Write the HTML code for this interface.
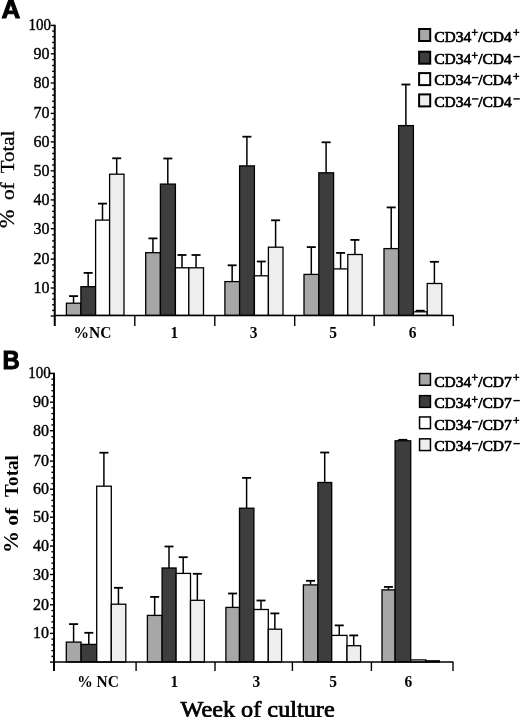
<!DOCTYPE html>
<html><head><meta charset="utf-8"><style>
html,body{margin:0;padding:0;background:#fff;}
body{width:520px;height:717px;overflow:hidden;}
svg{display:block;will-change:transform;}
text{font-family:"Liberation Serif",serif;fill:#000;}
.yl{font-size:16px;stroke:#000;stroke-width:0.4px;}
.xl{font-size:15.5px;font-weight:bold;}
.lg{font-size:15.5px;stroke:#000;stroke-width:0.7px;}
.sup{font-size:11.5px;stroke:#000;stroke-width:0.6px;}
.let{font-family:"Liberation Sans",sans-serif;font-weight:bold;font-size:26px;stroke:#000;stroke-width:1.0px;}
.yt{font-size:20px;stroke:#000;stroke-width:0.3px;}
.ytb{font-size:19.5px;font-weight:bold;}
.xt{font-size:23.2px;stroke:#000;stroke-width:0.75px;}
</style></head><body>
<svg width="520" height="717" viewBox="0 0 520 717">
<line x1="73.55" y1="303.20" x2="73.55" y2="296.10" stroke="#000" stroke-width="1.5"/>
<line x1="69.05" y1="296.10" x2="78.05" y2="296.10" stroke="#000" stroke-width="1.8"/>
<rect x="66.40" y="303.20" width="14.50" height="12.20" fill="#a7a7a7" stroke="#000" stroke-width="1.3"/>
<line x1="88.15" y1="286.70" x2="88.15" y2="272.90" stroke="#000" stroke-width="1.5"/>
<line x1="83.65" y1="272.90" x2="92.65" y2="272.90" stroke="#000" stroke-width="1.8"/>
<rect x="80.90" y="286.70" width="14.70" height="28.70" fill="#3d3d3d" stroke="#000" stroke-width="1.3"/>
<line x1="102.50" y1="220.10" x2="102.50" y2="203.60" stroke="#000" stroke-width="1.5"/>
<line x1="98.00" y1="203.60" x2="107.00" y2="203.60" stroke="#000" stroke-width="1.8"/>
<rect x="95.60" y="220.10" width="14.00" height="95.30" fill="#fefefe" stroke="#000" stroke-width="1.3"/>
<line x1="116.70" y1="174.20" x2="116.70" y2="158.30" stroke="#000" stroke-width="1.5"/>
<line x1="112.20" y1="158.30" x2="121.20" y2="158.30" stroke="#000" stroke-width="1.8"/>
<rect x="109.60" y="174.20" width="14.40" height="141.20" fill="#eeeeee" stroke="#000" stroke-width="1.3"/>
<line x1="152.95" y1="252.70" x2="152.95" y2="238.40" stroke="#000" stroke-width="1.5"/>
<line x1="148.45" y1="238.40" x2="157.45" y2="238.40" stroke="#000" stroke-width="1.8"/>
<rect x="145.70" y="252.70" width="14.70" height="62.70" fill="#a7a7a7" stroke="#000" stroke-width="1.3"/>
<line x1="167.80" y1="184.10" x2="167.80" y2="158.50" stroke="#000" stroke-width="1.5"/>
<line x1="163.30" y1="158.50" x2="172.30" y2="158.50" stroke="#000" stroke-width="1.8"/>
<rect x="160.40" y="184.10" width="15.00" height="131.30" fill="#3d3d3d" stroke="#000" stroke-width="1.3"/>
<line x1="182.00" y1="267.80" x2="182.00" y2="255.00" stroke="#000" stroke-width="1.5"/>
<line x1="177.50" y1="255.00" x2="186.50" y2="255.00" stroke="#000" stroke-width="1.8"/>
<rect x="175.40" y="267.80" width="13.40" height="47.60" fill="#fefefe" stroke="#000" stroke-width="1.3"/>
<line x1="196.05" y1="267.80" x2="196.05" y2="255.00" stroke="#000" stroke-width="1.5"/>
<line x1="191.55" y1="255.00" x2="200.55" y2="255.00" stroke="#000" stroke-width="1.8"/>
<rect x="188.80" y="267.80" width="14.70" height="47.60" fill="#eeeeee" stroke="#000" stroke-width="1.3"/>
<line x1="232.15" y1="281.60" x2="232.15" y2="265.30" stroke="#000" stroke-width="1.5"/>
<line x1="227.65" y1="265.30" x2="236.65" y2="265.30" stroke="#000" stroke-width="1.8"/>
<rect x="224.90" y="281.60" width="14.70" height="33.80" fill="#a7a7a7" stroke="#000" stroke-width="1.3"/>
<line x1="246.90" y1="165.90" x2="246.90" y2="136.70" stroke="#000" stroke-width="1.5"/>
<line x1="242.40" y1="136.70" x2="251.40" y2="136.70" stroke="#000" stroke-width="1.8"/>
<rect x="239.60" y="165.90" width="14.80" height="149.50" fill="#3d3d3d" stroke="#000" stroke-width="1.3"/>
<line x1="261.30" y1="275.80" x2="261.30" y2="261.50" stroke="#000" stroke-width="1.5"/>
<line x1="256.80" y1="261.50" x2="265.80" y2="261.50" stroke="#000" stroke-width="1.8"/>
<rect x="254.40" y="275.80" width="14.00" height="39.60" fill="#fefefe" stroke="#000" stroke-width="1.3"/>
<line x1="275.60" y1="247.20" x2="275.60" y2="220.30" stroke="#000" stroke-width="1.5"/>
<line x1="271.10" y1="220.30" x2="280.10" y2="220.30" stroke="#000" stroke-width="1.8"/>
<rect x="268.40" y="247.20" width="14.60" height="68.20" fill="#eeeeee" stroke="#000" stroke-width="1.3"/>
<line x1="311.30" y1="274.40" x2="311.30" y2="247.10" stroke="#000" stroke-width="1.5"/>
<line x1="306.80" y1="247.10" x2="315.80" y2="247.10" stroke="#000" stroke-width="1.8"/>
<rect x="304.00" y="274.40" width="14.80" height="41.00" fill="#a7a7a7" stroke="#000" stroke-width="1.3"/>
<line x1="326.10" y1="172.80" x2="326.10" y2="142.30" stroke="#000" stroke-width="1.5"/>
<line x1="321.60" y1="142.30" x2="330.60" y2="142.30" stroke="#000" stroke-width="1.8"/>
<rect x="318.80" y="172.80" width="14.80" height="142.60" fill="#3d3d3d" stroke="#000" stroke-width="1.3"/>
<line x1="340.60" y1="268.90" x2="340.60" y2="252.90" stroke="#000" stroke-width="1.5"/>
<line x1="336.10" y1="252.90" x2="345.10" y2="252.90" stroke="#000" stroke-width="1.8"/>
<rect x="333.60" y="268.90" width="14.20" height="46.50" fill="#fefefe" stroke="#000" stroke-width="1.3"/>
<line x1="354.90" y1="254.50" x2="354.90" y2="239.90" stroke="#000" stroke-width="1.5"/>
<line x1="350.40" y1="239.90" x2="359.40" y2="239.90" stroke="#000" stroke-width="1.8"/>
<rect x="347.80" y="254.50" width="14.40" height="60.90" fill="#eeeeee" stroke="#000" stroke-width="1.3"/>
<line x1="391.20" y1="248.60" x2="391.20" y2="207.40" stroke="#000" stroke-width="1.5"/>
<line x1="386.70" y1="207.40" x2="395.70" y2="207.40" stroke="#000" stroke-width="1.8"/>
<rect x="384.00" y="248.60" width="14.60" height="66.80" fill="#a7a7a7" stroke="#000" stroke-width="1.3"/>
<line x1="405.90" y1="125.60" x2="405.90" y2="84.50" stroke="#000" stroke-width="1.5"/>
<line x1="401.40" y1="84.50" x2="410.40" y2="84.50" stroke="#000" stroke-width="1.8"/>
<rect x="398.60" y="125.60" width="14.80" height="189.80" fill="#3d3d3d" stroke="#000" stroke-width="1.3"/>
<line x1="420.20" y1="311.80" x2="420.20" y2="310.70" stroke="#000" stroke-width="1.5"/>
<line x1="415.70" y1="310.70" x2="424.70" y2="310.70" stroke="#000" stroke-width="1.8"/>
<rect x="413.40" y="311.80" width="13.80" height="3.60" fill="#fefefe" stroke="#000" stroke-width="1.3"/>
<line x1="434.40" y1="283.50" x2="434.40" y2="261.80" stroke="#000" stroke-width="1.5"/>
<line x1="429.90" y1="261.80" x2="438.90" y2="261.80" stroke="#000" stroke-width="1.8"/>
<rect x="427.20" y="283.50" width="14.60" height="31.90" fill="#eeeeee" stroke="#000" stroke-width="1.3"/>
<line x1="54.75" y1="24.80" x2="54.75" y2="326" stroke="#000" stroke-width="2"/>
<line x1="50.75" y1="316.00" x2="54.75" y2="316.00" stroke="#000" stroke-width="1.4"/>
<line x1="52.15" y1="310.40" x2="54.75" y2="310.40" stroke="#000" stroke-width="1.4"/>
<line x1="52.15" y1="304.80" x2="54.75" y2="304.80" stroke="#000" stroke-width="1.4"/>
<line x1="52.15" y1="299.20" x2="54.75" y2="299.20" stroke="#000" stroke-width="1.4"/>
<line x1="52.15" y1="293.60" x2="54.75" y2="293.60" stroke="#000" stroke-width="1.4"/>
<line x1="50.75" y1="288.00" x2="54.75" y2="288.00" stroke="#000" stroke-width="1.4"/>
<text x="49.40" y="293.00" text-anchor="end" class="yl">10</text>
<line x1="52.15" y1="282.22" x2="54.75" y2="282.22" stroke="#000" stroke-width="1.4"/>
<line x1="52.15" y1="276.44" x2="54.75" y2="276.44" stroke="#000" stroke-width="1.4"/>
<line x1="52.15" y1="270.66" x2="54.75" y2="270.66" stroke="#000" stroke-width="1.4"/>
<line x1="52.15" y1="264.88" x2="54.75" y2="264.88" stroke="#000" stroke-width="1.4"/>
<line x1="50.75" y1="259.10" x2="54.75" y2="259.10" stroke="#000" stroke-width="1.4"/>
<text x="49.40" y="264.10" text-anchor="end" class="yl">20</text>
<line x1="52.15" y1="253.02" x2="54.75" y2="253.02" stroke="#000" stroke-width="1.4"/>
<line x1="52.15" y1="246.94" x2="54.75" y2="246.94" stroke="#000" stroke-width="1.4"/>
<line x1="52.15" y1="240.86" x2="54.75" y2="240.86" stroke="#000" stroke-width="1.4"/>
<line x1="52.15" y1="234.78" x2="54.75" y2="234.78" stroke="#000" stroke-width="1.4"/>
<line x1="50.75" y1="228.70" x2="54.75" y2="228.70" stroke="#000" stroke-width="1.4"/>
<text x="49.40" y="233.70" text-anchor="end" class="yl">30</text>
<line x1="52.15" y1="222.94" x2="54.75" y2="222.94" stroke="#000" stroke-width="1.4"/>
<line x1="52.15" y1="217.18" x2="54.75" y2="217.18" stroke="#000" stroke-width="1.4"/>
<line x1="52.15" y1="211.42" x2="54.75" y2="211.42" stroke="#000" stroke-width="1.4"/>
<line x1="52.15" y1="205.66" x2="54.75" y2="205.66" stroke="#000" stroke-width="1.4"/>
<line x1="50.75" y1="199.90" x2="54.75" y2="199.90" stroke="#000" stroke-width="1.4"/>
<text x="49.40" y="204.90" text-anchor="end" class="yl">40</text>
<line x1="52.15" y1="194.08" x2="54.75" y2="194.08" stroke="#000" stroke-width="1.4"/>
<line x1="52.15" y1="188.26" x2="54.75" y2="188.26" stroke="#000" stroke-width="1.4"/>
<line x1="52.15" y1="182.44" x2="54.75" y2="182.44" stroke="#000" stroke-width="1.4"/>
<line x1="52.15" y1="176.62" x2="54.75" y2="176.62" stroke="#000" stroke-width="1.4"/>
<line x1="50.75" y1="170.80" x2="54.75" y2="170.80" stroke="#000" stroke-width="1.4"/>
<text x="49.40" y="175.80" text-anchor="end" class="yl">50</text>
<line x1="52.15" y1="165.02" x2="54.75" y2="165.02" stroke="#000" stroke-width="1.4"/>
<line x1="52.15" y1="159.24" x2="54.75" y2="159.24" stroke="#000" stroke-width="1.4"/>
<line x1="52.15" y1="153.46" x2="54.75" y2="153.46" stroke="#000" stroke-width="1.4"/>
<line x1="52.15" y1="147.68" x2="54.75" y2="147.68" stroke="#000" stroke-width="1.4"/>
<line x1="50.75" y1="141.90" x2="54.75" y2="141.90" stroke="#000" stroke-width="1.4"/>
<text x="49.40" y="146.90" text-anchor="end" class="yl">60</text>
<line x1="52.15" y1="136.20" x2="54.75" y2="136.20" stroke="#000" stroke-width="1.4"/>
<line x1="52.15" y1="130.50" x2="54.75" y2="130.50" stroke="#000" stroke-width="1.4"/>
<line x1="52.15" y1="124.80" x2="54.75" y2="124.80" stroke="#000" stroke-width="1.4"/>
<line x1="52.15" y1="119.10" x2="54.75" y2="119.10" stroke="#000" stroke-width="1.4"/>
<line x1="50.75" y1="113.40" x2="54.75" y2="113.40" stroke="#000" stroke-width="1.4"/>
<text x="49.40" y="118.40" text-anchor="end" class="yl">70</text>
<line x1="52.15" y1="107.32" x2="54.75" y2="107.32" stroke="#000" stroke-width="1.4"/>
<line x1="52.15" y1="101.24" x2="54.75" y2="101.24" stroke="#000" stroke-width="1.4"/>
<line x1="52.15" y1="95.16" x2="54.75" y2="95.16" stroke="#000" stroke-width="1.4"/>
<line x1="52.15" y1="89.08" x2="54.75" y2="89.08" stroke="#000" stroke-width="1.4"/>
<line x1="50.75" y1="83.00" x2="54.75" y2="83.00" stroke="#000" stroke-width="1.4"/>
<text x="49.40" y="88.00" text-anchor="end" class="yl">80</text>
<line x1="52.15" y1="77.16" x2="54.75" y2="77.16" stroke="#000" stroke-width="1.4"/>
<line x1="52.15" y1="71.32" x2="54.75" y2="71.32" stroke="#000" stroke-width="1.4"/>
<line x1="52.15" y1="65.48" x2="54.75" y2="65.48" stroke="#000" stroke-width="1.4"/>
<line x1="52.15" y1="59.64" x2="54.75" y2="59.64" stroke="#000" stroke-width="1.4"/>
<line x1="50.75" y1="53.80" x2="54.75" y2="53.80" stroke="#000" stroke-width="1.4"/>
<text x="49.40" y="58.80" text-anchor="end" class="yl">90</text>
<line x1="52.15" y1="48.12" x2="54.75" y2="48.12" stroke="#000" stroke-width="1.4"/>
<line x1="52.15" y1="42.44" x2="54.75" y2="42.44" stroke="#000" stroke-width="1.4"/>
<line x1="52.15" y1="36.76" x2="54.75" y2="36.76" stroke="#000" stroke-width="1.4"/>
<line x1="52.15" y1="31.08" x2="54.75" y2="31.08" stroke="#000" stroke-width="1.4"/>
<line x1="50.75" y1="25.40" x2="54.75" y2="25.40" stroke="#000" stroke-width="1.4"/>
<text transform="translate(51.00,30.10) scale(0.94,1)" text-anchor="end" class="yl">100</text>
<line x1="54.75" y1="315.4" x2="453.6" y2="315.4" stroke="#000" stroke-width="1.5"/>
<line x1="134.8" y1="315.4" x2="134.8" y2="326" stroke="#000" stroke-width="1.4"/>
<line x1="214.8" y1="315.4" x2="214.8" y2="326" stroke="#000" stroke-width="1.4"/>
<line x1="294.7" y1="315.4" x2="294.7" y2="326" stroke="#000" stroke-width="1.4"/>
<line x1="374.2" y1="315.4" x2="374.2" y2="326" stroke="#000" stroke-width="1.4"/>
<line x1="453.3" y1="315.4" x2="453.3" y2="326" stroke="#000" stroke-width="1.4"/>
<text transform="translate(73.60,338.4) scale(1,1.12)" class="xl">%NC</text>
<text transform="translate(170.60,338.4) scale(1,1.12)" class="xl">1</text>
<text transform="translate(249.80,338.4) scale(1,1.12)" class="xl">3</text>
<text transform="translate(329.20,338.4) scale(1,1.12)" class="xl">5</text>
<text transform="translate(408.70,338.4) scale(1,1.12)" class="xl">6</text>
<rect x="419.10" y="29.00" width="11.10" height="12.00" fill="#a7a7a7" stroke="#000" stroke-width="2.0"/>
<text x="434.2" y="41.80" class="lg">CD34</text>
<text x="478.2" y="41.80" class="lg">/CD4</text>
<text x="471.60" y="37.20" class="sup">+</text>
<text x="513.00" y="37.20" class="sup">+</text>
<rect x="419.10" y="51.70" width="11.10" height="12.00" fill="#3d3d3d" stroke="#000" stroke-width="2.0"/>
<text x="434.2" y="64.30" class="lg">CD34</text>
<text x="478.2" y="64.30" class="lg">/CD4</text>
<text x="471.60" y="59.70" class="sup">+</text>
<rect x="513.40" y="55.90" width="6.4" height="1.4" fill="#000"/>
<rect x="419.10" y="73.10" width="11.10" height="12.00" fill="#fefefe" stroke="#000" stroke-width="2.0"/>
<text x="434.2" y="85.30" class="lg">CD34</text>
<text x="478.2" y="85.30" class="lg">/CD4</text>
<rect x="472.00" y="76.90" width="6.4" height="1.4" fill="#000"/>
<text x="513.00" y="80.70" class="sup">+</text>
<rect x="419.10" y="94.40" width="11.10" height="12.00" fill="#eeeeee" stroke="#000" stroke-width="2.0"/>
<text x="434.2" y="106.60" class="lg">CD34</text>
<text x="478.2" y="106.60" class="lg">/CD4</text>
<rect x="472.00" y="98.20" width="6.4" height="1.4" fill="#000"/>
<rect x="513.40" y="98.20" width="6.4" height="1.4" fill="#000"/>
<text transform="translate(1.6,18.3) scale(1.0,1)" class="let">A</text>
<text transform="translate(14.2,228.00) rotate(-90) scale(1.08,1)" class="yt" style="font-size:20.5px">%</text>
<text transform="translate(14.2,200.10) rotate(-90) scale(1.1,1)" class="yt" style="font-size:19.5px">of</text>
<text transform="translate(14.2,173.30) rotate(-90) scale(1.07,1)" class="yt" style="font-size:19.5px">Total</text>
<line x1="73.60" y1="642.10" x2="73.60" y2="624.10" stroke="#000" stroke-width="1.5"/>
<line x1="69.10" y1="624.10" x2="78.10" y2="624.10" stroke="#000" stroke-width="1.8"/>
<rect x="66.30" y="642.10" width="14.80" height="19.90" fill="#a7a7a7" stroke="#000" stroke-width="1.3"/>
<line x1="88.80" y1="644.40" x2="88.80" y2="632.80" stroke="#000" stroke-width="1.5"/>
<line x1="84.30" y1="632.80" x2="93.30" y2="632.80" stroke="#000" stroke-width="1.8"/>
<rect x="81.10" y="644.40" width="15.60" height="17.60" fill="#3d3d3d" stroke="#000" stroke-width="1.3"/>
<line x1="103.90" y1="486.20" x2="103.90" y2="452.70" stroke="#000" stroke-width="1.5"/>
<line x1="99.40" y1="452.70" x2="108.40" y2="452.70" stroke="#000" stroke-width="1.8"/>
<rect x="96.70" y="486.20" width="14.60" height="175.80" fill="#fefefe" stroke="#000" stroke-width="1.3"/>
<line x1="118.45" y1="604.20" x2="118.45" y2="587.80" stroke="#000" stroke-width="1.5"/>
<line x1="113.95" y1="587.80" x2="122.95" y2="587.80" stroke="#000" stroke-width="1.8"/>
<rect x="111.30" y="604.20" width="14.50" height="57.80" fill="#eeeeee" stroke="#000" stroke-width="1.3"/>
<line x1="154.65" y1="615.40" x2="154.65" y2="596.90" stroke="#000" stroke-width="1.5"/>
<line x1="150.15" y1="596.90" x2="159.15" y2="596.90" stroke="#000" stroke-width="1.8"/>
<rect x="147.40" y="615.40" width="14.70" height="46.60" fill="#a7a7a7" stroke="#000" stroke-width="1.3"/>
<line x1="169.00" y1="568.00" x2="169.00" y2="546.50" stroke="#000" stroke-width="1.5"/>
<line x1="164.50" y1="546.50" x2="173.50" y2="546.50" stroke="#000" stroke-width="1.8"/>
<rect x="162.10" y="568.00" width="14.00" height="94.00" fill="#3d3d3d" stroke="#000" stroke-width="1.3"/>
<line x1="183.20" y1="573.40" x2="183.20" y2="557.20" stroke="#000" stroke-width="1.5"/>
<line x1="178.70" y1="557.20" x2="187.70" y2="557.20" stroke="#000" stroke-width="1.8"/>
<rect x="176.10" y="573.40" width="14.40" height="88.60" fill="#fefefe" stroke="#000" stroke-width="1.3"/>
<line x1="197.35" y1="600.30" x2="197.35" y2="573.80" stroke="#000" stroke-width="1.5"/>
<line x1="192.85" y1="573.80" x2="201.85" y2="573.80" stroke="#000" stroke-width="1.8"/>
<rect x="190.50" y="600.30" width="13.90" height="61.70" fill="#eeeeee" stroke="#000" stroke-width="1.3"/>
<line x1="232.60" y1="607.40" x2="232.60" y2="593.50" stroke="#000" stroke-width="1.5"/>
<line x1="228.10" y1="593.50" x2="237.10" y2="593.50" stroke="#000" stroke-width="1.8"/>
<rect x="225.90" y="607.40" width="13.60" height="54.60" fill="#a7a7a7" stroke="#000" stroke-width="1.3"/>
<line x1="246.60" y1="508.20" x2="246.60" y2="477.90" stroke="#000" stroke-width="1.5"/>
<line x1="242.10" y1="477.90" x2="251.10" y2="477.90" stroke="#000" stroke-width="1.8"/>
<rect x="239.50" y="508.20" width="14.40" height="153.80" fill="#3d3d3d" stroke="#000" stroke-width="1.3"/>
<line x1="261.00" y1="609.50" x2="261.00" y2="600.50" stroke="#000" stroke-width="1.5"/>
<line x1="256.50" y1="600.50" x2="265.50" y2="600.50" stroke="#000" stroke-width="1.8"/>
<rect x="253.90" y="609.50" width="14.40" height="52.50" fill="#fefefe" stroke="#000" stroke-width="1.3"/>
<line x1="274.85" y1="629.20" x2="274.85" y2="613.40" stroke="#000" stroke-width="1.5"/>
<line x1="270.35" y1="613.40" x2="279.35" y2="613.40" stroke="#000" stroke-width="1.8"/>
<rect x="268.30" y="629.20" width="13.30" height="32.80" fill="#eeeeee" stroke="#000" stroke-width="1.3"/>
<line x1="310.55" y1="584.90" x2="310.55" y2="580.80" stroke="#000" stroke-width="1.5"/>
<line x1="306.05" y1="580.80" x2="315.05" y2="580.80" stroke="#000" stroke-width="1.8"/>
<rect x="303.40" y="584.90" width="14.50" height="77.10" fill="#a7a7a7" stroke="#000" stroke-width="1.3"/>
<line x1="324.70" y1="482.50" x2="324.70" y2="452.50" stroke="#000" stroke-width="1.5"/>
<line x1="320.20" y1="452.50" x2="329.20" y2="452.50" stroke="#000" stroke-width="1.8"/>
<rect x="317.90" y="482.50" width="13.80" height="179.50" fill="#3d3d3d" stroke="#000" stroke-width="1.3"/>
<line x1="339.25" y1="635.40" x2="339.25" y2="625.40" stroke="#000" stroke-width="1.5"/>
<line x1="334.75" y1="625.40" x2="343.75" y2="625.40" stroke="#000" stroke-width="1.8"/>
<rect x="331.70" y="635.40" width="15.30" height="26.60" fill="#fefefe" stroke="#000" stroke-width="1.3"/>
<line x1="353.70" y1="645.70" x2="353.70" y2="635.40" stroke="#000" stroke-width="1.5"/>
<line x1="349.20" y1="635.40" x2="358.20" y2="635.40" stroke="#000" stroke-width="1.8"/>
<rect x="347.00" y="645.70" width="13.60" height="16.30" fill="#eeeeee" stroke="#000" stroke-width="1.3"/>
<line x1="388.45" y1="589.90" x2="388.45" y2="586.90" stroke="#000" stroke-width="1.5"/>
<line x1="383.95" y1="586.90" x2="392.95" y2="586.90" stroke="#000" stroke-width="1.8"/>
<rect x="382.00" y="589.90" width="13.10" height="72.10" fill="#a7a7a7" stroke="#000" stroke-width="1.3"/>
<line x1="402.80" y1="440.80" x2="402.80" y2="439.80" stroke="#000" stroke-width="1.5"/>
<line x1="398.30" y1="439.80" x2="407.30" y2="439.80" stroke="#000" stroke-width="1.8"/>
<rect x="395.10" y="440.80" width="15.60" height="221.20" fill="#3d3d3d" stroke="#000" stroke-width="1.3"/>
<rect x="410.70" y="659.90" width="15.10" height="2.10" fill="#fefefe" stroke="#000" stroke-width="1.3"/>
<rect x="425.80" y="660.80" width="13.50" height="1.20" fill="#eeeeee" stroke="#000" stroke-width="1.3"/>
<line x1="54.0" y1="372.80" x2="54.0" y2="671" stroke="#000" stroke-width="2"/>
<line x1="50.00" y1="662.10" x2="54.0" y2="662.10" stroke="#000" stroke-width="1.4"/>
<line x1="51.40" y1="656.36" x2="54.0" y2="656.36" stroke="#000" stroke-width="1.4"/>
<line x1="51.40" y1="650.62" x2="54.0" y2="650.62" stroke="#000" stroke-width="1.4"/>
<line x1="51.40" y1="644.88" x2="54.0" y2="644.88" stroke="#000" stroke-width="1.4"/>
<line x1="51.40" y1="639.14" x2="54.0" y2="639.14" stroke="#000" stroke-width="1.4"/>
<line x1="50.00" y1="633.40" x2="54.0" y2="633.40" stroke="#000" stroke-width="1.4"/>
<text x="49.00" y="638.40" text-anchor="end" class="yl">10</text>
<line x1="51.40" y1="627.68" x2="54.0" y2="627.68" stroke="#000" stroke-width="1.4"/>
<line x1="51.40" y1="621.96" x2="54.0" y2="621.96" stroke="#000" stroke-width="1.4"/>
<line x1="51.40" y1="616.24" x2="54.0" y2="616.24" stroke="#000" stroke-width="1.4"/>
<line x1="51.40" y1="610.52" x2="54.0" y2="610.52" stroke="#000" stroke-width="1.4"/>
<line x1="50.00" y1="604.80" x2="54.0" y2="604.80" stroke="#000" stroke-width="1.4"/>
<text x="49.00" y="609.80" text-anchor="end" class="yl">20</text>
<line x1="51.40" y1="598.74" x2="54.0" y2="598.74" stroke="#000" stroke-width="1.4"/>
<line x1="51.40" y1="592.68" x2="54.0" y2="592.68" stroke="#000" stroke-width="1.4"/>
<line x1="51.40" y1="586.62" x2="54.0" y2="586.62" stroke="#000" stroke-width="1.4"/>
<line x1="51.40" y1="580.56" x2="54.0" y2="580.56" stroke="#000" stroke-width="1.4"/>
<line x1="50.00" y1="574.50" x2="54.0" y2="574.50" stroke="#000" stroke-width="1.4"/>
<text x="49.00" y="579.50" text-anchor="end" class="yl">30</text>
<line x1="51.40" y1="568.82" x2="54.0" y2="568.82" stroke="#000" stroke-width="1.4"/>
<line x1="51.40" y1="563.14" x2="54.0" y2="563.14" stroke="#000" stroke-width="1.4"/>
<line x1="51.40" y1="557.46" x2="54.0" y2="557.46" stroke="#000" stroke-width="1.4"/>
<line x1="51.40" y1="551.78" x2="54.0" y2="551.78" stroke="#000" stroke-width="1.4"/>
<line x1="50.00" y1="546.10" x2="54.0" y2="546.10" stroke="#000" stroke-width="1.4"/>
<text x="49.00" y="551.10" text-anchor="end" class="yl">40</text>
<line x1="51.40" y1="540.32" x2="54.0" y2="540.32" stroke="#000" stroke-width="1.4"/>
<line x1="51.40" y1="534.54" x2="54.0" y2="534.54" stroke="#000" stroke-width="1.4"/>
<line x1="51.40" y1="528.76" x2="54.0" y2="528.76" stroke="#000" stroke-width="1.4"/>
<line x1="51.40" y1="522.98" x2="54.0" y2="522.98" stroke="#000" stroke-width="1.4"/>
<line x1="50.00" y1="517.20" x2="54.0" y2="517.20" stroke="#000" stroke-width="1.4"/>
<text x="49.00" y="522.20" text-anchor="end" class="yl">50</text>
<line x1="51.40" y1="511.60" x2="54.0" y2="511.60" stroke="#000" stroke-width="1.4"/>
<line x1="51.40" y1="506.00" x2="54.0" y2="506.00" stroke="#000" stroke-width="1.4"/>
<line x1="51.40" y1="500.40" x2="54.0" y2="500.40" stroke="#000" stroke-width="1.4"/>
<line x1="51.40" y1="494.80" x2="54.0" y2="494.80" stroke="#000" stroke-width="1.4"/>
<line x1="50.00" y1="489.20" x2="54.0" y2="489.20" stroke="#000" stroke-width="1.4"/>
<text x="49.00" y="494.20" text-anchor="end" class="yl">60</text>
<line x1="51.40" y1="483.58" x2="54.0" y2="483.58" stroke="#000" stroke-width="1.4"/>
<line x1="51.40" y1="477.96" x2="54.0" y2="477.96" stroke="#000" stroke-width="1.4"/>
<line x1="51.40" y1="472.34" x2="54.0" y2="472.34" stroke="#000" stroke-width="1.4"/>
<line x1="51.40" y1="466.72" x2="54.0" y2="466.72" stroke="#000" stroke-width="1.4"/>
<line x1="50.00" y1="461.10" x2="54.0" y2="461.10" stroke="#000" stroke-width="1.4"/>
<text x="49.00" y="466.10" text-anchor="end" class="yl">70</text>
<line x1="51.40" y1="455.02" x2="54.0" y2="455.02" stroke="#000" stroke-width="1.4"/>
<line x1="51.40" y1="448.94" x2="54.0" y2="448.94" stroke="#000" stroke-width="1.4"/>
<line x1="51.40" y1="442.86" x2="54.0" y2="442.86" stroke="#000" stroke-width="1.4"/>
<line x1="51.40" y1="436.78" x2="54.0" y2="436.78" stroke="#000" stroke-width="1.4"/>
<line x1="50.00" y1="430.70" x2="54.0" y2="430.70" stroke="#000" stroke-width="1.4"/>
<text x="49.00" y="435.70" text-anchor="end" class="yl">80</text>
<line x1="51.40" y1="425.00" x2="54.0" y2="425.00" stroke="#000" stroke-width="1.4"/>
<line x1="51.40" y1="419.30" x2="54.0" y2="419.30" stroke="#000" stroke-width="1.4"/>
<line x1="51.40" y1="413.60" x2="54.0" y2="413.60" stroke="#000" stroke-width="1.4"/>
<line x1="51.40" y1="407.90" x2="54.0" y2="407.90" stroke="#000" stroke-width="1.4"/>
<line x1="50.00" y1="402.20" x2="54.0" y2="402.20" stroke="#000" stroke-width="1.4"/>
<text x="49.00" y="407.20" text-anchor="end" class="yl">90</text>
<line x1="51.40" y1="396.44" x2="54.0" y2="396.44" stroke="#000" stroke-width="1.4"/>
<line x1="51.40" y1="390.68" x2="54.0" y2="390.68" stroke="#000" stroke-width="1.4"/>
<line x1="51.40" y1="384.92" x2="54.0" y2="384.92" stroke="#000" stroke-width="1.4"/>
<line x1="51.40" y1="379.16" x2="54.0" y2="379.16" stroke="#000" stroke-width="1.4"/>
<line x1="50.00" y1="373.40" x2="54.0" y2="373.40" stroke="#000" stroke-width="1.4"/>
<text transform="translate(50.80,378.10) scale(0.94,1)" text-anchor="end" class="yl">100</text>
<line x1="54.0" y1="662.0" x2="453.3" y2="662.0" stroke="#000" stroke-width="1.5"/>
<line x1="136.1" y1="662.0" x2="136.1" y2="671" stroke="#000" stroke-width="1.4"/>
<line x1="215.0" y1="662.0" x2="215.0" y2="671" stroke="#000" stroke-width="1.4"/>
<line x1="292.4" y1="662.0" x2="292.4" y2="671" stroke="#000" stroke-width="1.4"/>
<line x1="371.4" y1="662.0" x2="371.4" y2="671" stroke="#000" stroke-width="1.4"/>
<line x1="453.0" y1="662.0" x2="453.0" y2="671" stroke="#000" stroke-width="1.4"/>
<text transform="translate(77.20,686.9) scale(1,1.12)" class="xl">% NC</text>
<text transform="translate(170.50,686.9) scale(1,1.12)" class="xl">1</text>
<text transform="translate(252.50,686.9) scale(1,1.12)" class="xl">3</text>
<text transform="translate(329.20,686.9) scale(1,1.12)" class="xl">5</text>
<text transform="translate(404.40,686.9) scale(1,1.12)" class="xl">6</text>
<rect x="419.55" y="373.55" width="10.90" height="11.70" fill="#a7a7a7" stroke="#000" stroke-width="1.5"/>
<text x="434.2" y="386.50" class="lg">CD34</text>
<text x="478.2" y="386.50" class="lg">/CD7</text>
<text x="471.60" y="381.90" class="sup">+</text>
<text x="513.00" y="381.90" class="sup">+</text>
<rect x="419.55" y="395.65" width="10.90" height="11.70" fill="#3d3d3d" stroke="#000" stroke-width="1.5"/>
<text x="434.2" y="408.30" class="lg">CD34</text>
<text x="478.2" y="408.30" class="lg">/CD7</text>
<text x="471.60" y="403.70" class="sup">+</text>
<rect x="513.40" y="399.90" width="6.4" height="1.4" fill="#000"/>
<rect x="419.55" y="416.95" width="10.90" height="11.70" fill="#fefefe" stroke="#000" stroke-width="1.5"/>
<text x="434.2" y="429.50" class="lg">CD34</text>
<text x="478.2" y="429.50" class="lg">/CD7</text>
<rect x="472.00" y="421.10" width="6.4" height="1.4" fill="#000"/>
<text x="513.00" y="424.90" class="sup">+</text>
<rect x="419.55" y="438.85" width="10.90" height="11.70" fill="#eeeeee" stroke="#000" stroke-width="1.5"/>
<text x="434.2" y="451.30" class="lg">CD34</text>
<text x="478.2" y="451.30" class="lg">/CD7</text>
<rect x="472.00" y="442.90" width="6.4" height="1.4" fill="#000"/>
<rect x="513.40" y="442.90" width="6.4" height="1.4" fill="#000"/>
<text transform="translate(2.4,368.9) scale(0.92,1)" class="let">B</text>
<text transform="translate(18.3,553.10) rotate(-90) scale(1.1,1)" class="ytb" style="font-size:20px">%</text>
<text transform="translate(18.3,525.80) rotate(-90) scale(1.1,1)" class="ytb" style="font-size:19.5px">of</text>
<text transform="translate(18.3,496.90) rotate(-90) scale(0.98,1)" class="ytb" style="font-size:19.5px">Total</text>
<text transform="translate(180.5,716.6) scale(1.045,1)" class="xt">Week of culture</text>
</svg>
</body></html>
